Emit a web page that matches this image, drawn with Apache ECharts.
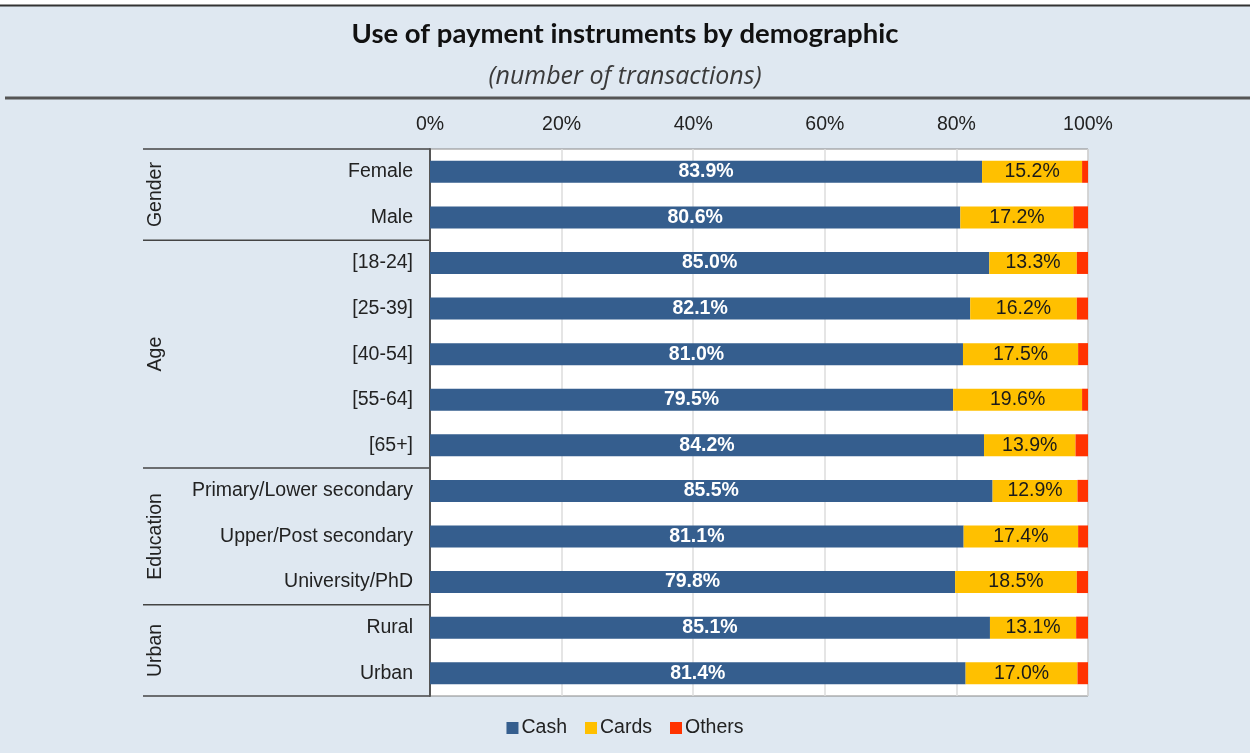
<!DOCTYPE html>
<html>
<head>
<meta charset="utf-8">
<script src="https://cdn.jsdelivr.net/npm/echarts@6/dist/echarts.min.js"></script>
<style>
  html, body { margin: 0; padding: 0; background: #dfe8f1; }
  #chart { width: 1250px; height: 753px; }
</style>
</head>
<body>
<div id="chart"></div>
<script>
// categories (top to bottom)
var categories = ['Female', 'Male', '[18-24]', '[25-39]', '[40-54]', '[55-64]', '[65+]',
  'Primary/Lower secondary', 'Upper/Post secondary', 'University/PhD', 'Rural', 'Urban']
// group name and how many rows it spans
var groups = ['Gender', 'Age', 'Education', 'Urban']
var groupSizes = [2, 5, 3, 2]

var cash = [83.9, 80.6, 85.0, 82.1, 81.0, 79.5, 84.2, 85.5, 81.1, 79.8, 85.1, 81.4]
var cards = [15.2, 17.2, 13.3, 16.2, 17.5, 19.6, 13.9, 12.9, 17.4, 18.5, 13.1, 17.0]
var others = [0.9, 2.2, 1.7, 1.7, 1.5, 0.9, 1.9, 1.6, 1.5, 1.7, 1.8, 1.6]

var font = '"Liberation Sans", Arial, sans-serif'
var fs = 19.5

var chart = echarts.init(document.getElementById('chart'))

var option = {
  backgroundColor: '#dfe8f1',
  animation: false,
  title: [
    {
      text: 'Use of payment instruments by demographic',
      left: 'center',
      top: 15,
      textStyle: { fontFamily: 'Lato', fontWeight: 'bold', fontSize: 27.5, color: '#111' }
    },
    {
      text: '(number of transactions)',
      left: 'center',
      top: 59,
      textStyle: { fontFamily: '"Open Sans"', fontStyle: 'italic', fontWeight: 'normal', fontSize: 25, color: '#3a3a3a' }
    }
  ],
  legend: {
    bottom: 10,
    left: 'center',
    itemWidth: 12,
    itemHeight: 12,
    itemGap: 18,
    icon: 'rect',
    textStyle: { fontFamily: font, fontSize: fs, color: '#222', padding: [0, 0, 0, -2] },
    data: ['Cash', 'Cards', 'Others']
  },
  grid: {
    left: 430,
    right: 162,
    top: 149,
    bottom: 57,
    show: true,
    backgroundColor: '#fff',
    borderColor: '#888',
    borderWidth: 1
  },
  xAxis: {
    type: 'value',
    position: 'top',
    min: 0,
    max: 100,
    interval: 20,
    axisLine: { show: false },
    axisTick: { show: false },
    splitLine: { lineStyle: { color: '#dcdcdc', width: 1.5 } },
    axisLabel: {
      formatter: '{value}%',
      fontFamily: font,
      fontSize: fs,
      color: '#222',
      margin: 14
    }
  },
  yAxis: {
    type: 'category',
    inverse: true,
    data: categories,
    axisLine: { show: true, lineStyle: { color: '#555', width: 2 } },
    axisTick: { show: false },
    axisLabel: { fontFamily: font, fontSize: fs, color: '#222', margin: 17 }
  },
  series: [
    {
      name: 'Cash',
      type: 'bar',
      stack: 'total',
      barWidth: 22,
      data: cash,
      itemStyle: { color: '#355e8e' },
      label: {
        show: true,
        position: 'inside',
        formatter: function (p) { return p.value.toFixed(1) + '%' },
        fontFamily: font,
        fontWeight: 'bold',
        fontSize: fs,
        color: '#fff'
      }
    },
    {
      name: 'Cards',
      type: 'bar',
      stack: 'total',
      data: cards,
      itemStyle: { color: '#ffc000' },
      label: {
        show: true,
        position: 'inside',
        formatter: function (p) { return p.value.toFixed(1) + '%' },
        fontFamily: font,
        fontSize: fs,
        color: '#1a1a1a'
      }
    },
    {
      name: 'Others',
      type: 'bar',
      stack: 'total',
      data: others,
      itemStyle: { color: '#ff3300' }
    }
  ]
}

chart.setOption(option)

// group separators and rotated group names, placed from the category axis
var c0 = chart.convertToPixel({ yAxisIndex: 0 }, categories[0])
var c1 = chart.convertToPixel({ yAxisIndex: 0 }, categories[1])
var band = c1 - c0
var axisX = chart.convertToPixel({ xAxisIndex: 0 }, 0)
var lineLeft = 143
var elements = [
  // white strip and rule at the very top, rule under the header
  { type: 'rect', shape: { x: 0, y: 0, width: 1250, height: 5 }, style: { fill: '#fff' }, silent: true },
  { type: 'line', shape: { x1: 0, y1: 5.5, x2: 1250, y2: 5.5 }, style: { stroke: '#333', lineWidth: 2 } },
  { type: 'line', shape: { x1: 5, y1: 98, x2: 1250, y2: 98 }, style: { stroke: '#555', lineWidth: 3 } }
]
var start = 0
groups.forEach(function (g, i) {
  var yTop = c0 + (start - 0.5) * band
  var yBot = c0 + (start + groupSizes[i] - 0.5) * band
  if (i === 0) {
    elements.push({ type: 'line', shape: { x1: lineLeft, y1: yTop, x2: axisX, y2: yTop }, style: { stroke: '#444', lineWidth: 1.5 } })
  }
  elements.push({ type: 'line', shape: { x1: lineLeft, y1: yBot, x2: axisX, y2: yBot }, style: { stroke: '#444', lineWidth: 1.5 } })
  elements.push({
    type: 'text',
    x: 156,
    y: (yTop + yBot) / 2,
    rotation: Math.PI / 2,
    style: {
      text: g,
      fontFamily: font,
      fontSize: fs,
      fill: '#222',
      align: 'center',
      verticalAlign: 'middle'
    }
  })
  start += groupSizes[i]
})
chart.setOption({ graphic: { elements: elements } })
</script>
</body>
</html>
